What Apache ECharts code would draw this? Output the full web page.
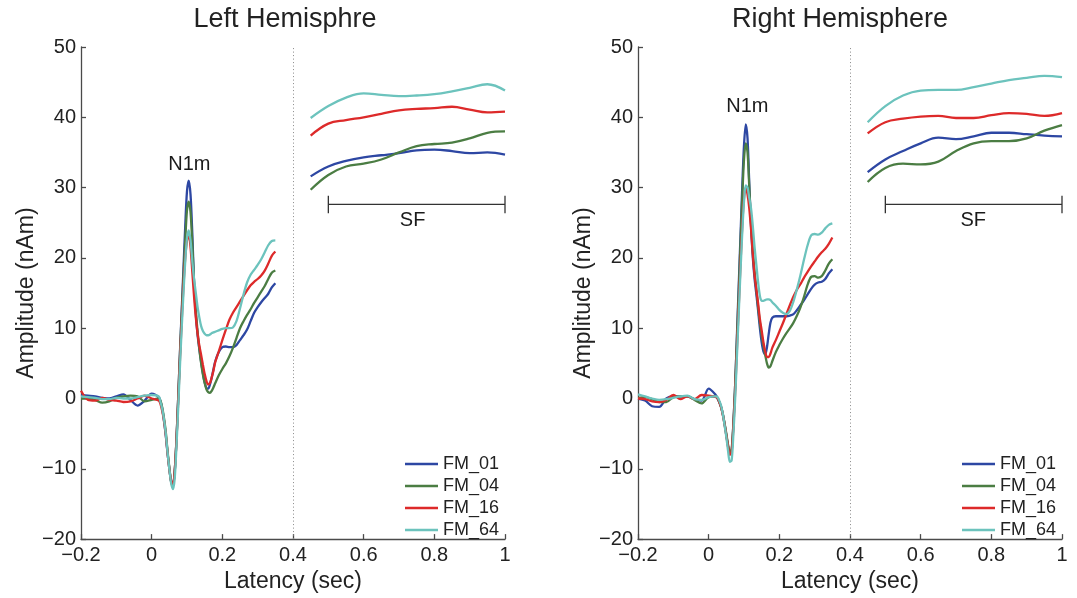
<!DOCTYPE html>
<html><head><meta charset="utf-8">
<script src="https://cdn.jsdelivr.net/npm/echarts@6/dist/echarts.min.js"></script>
<style>html,body{margin:0;padding:0;background:#fff}#c{width:1077px;height:598px}</style>
</head><body><div id="c"></div><script>
// ---------- DATA ----------
const seriesNames = ['FM_01', 'FM_04', 'FM_16', 'FM_64'];
const xTicks = [-0.2, 0, 0.2, 0.4, 0.6, 0.8, 1];
const yTicks = [-20, -10, 0, 10, 20, 30, 40, 50];

// latency samples (sec) of the evoked response
const latencyWave = [-0.2,-0.18,-0.16,-0.14,-0.12,-0.1,-0.08,-0.06,-0.04,-0.02,0,0.02,
  0.025,0.03,0.035,0.04,0.045,0.05,0.055,0.06,0.065,0.07,0.075,0.08,0.085,0.09,0.095,0.1,0.105,0.11,0.115,0.12,0.125,0.13,0.135,0.14,0.145,0.15,0.155,0.16,0.165,0.17,0.175,0.18,
  0.19,0.2,0.21,0.22,0.23,0.24,0.25,0.26,0.27,0.28,0.29,0.3,0.31,0.32,0.33,0.34,0.35];
// latency samples of the sustained field (SF) traces
const latencySF = [0.45,0.5,0.55,0.6,0.65,0.7,0.75,0.8,0.85,0.9,0.95,1.0];

// Left hemisphere, evoked response (nAm)
const leftFM01 = [0.5,0.4,0.3,0.1,0.0,0.3,0.6,-0.2,-1.0,-0.3,0.7,0.2,
  -0.4,-1.5,-3.2,-5.3,-7.8,-10.0,-11.8,-12.3,-10.5,-6.0,0.0,6.5,12.5,18.5,24.5,29.5,31.0,29.0,23.5,16.5,12.0,9.0,7.0,5.2,3.6,2.3,1.5,1.4,2.0,3.0,4.2,5.3,
  6.6,7.3,7.4,7.3,7.3,7.6,8.3,9.0,9.8,11.0,12.2,13.0,13.7,14.3,14.9,15.8,16.4];
const leftFM04 = [0.0,0.0,-0.2,-0.6,-0.4,0.1,0.3,0.4,0.3,-0.4,-0.2,0.0,
  -0.3,-1.3,-2.8,-4.8,-7.5,-9.8,-11.8,-12.5,-10.5,-6.0,0.0,6.3,12.0,17.5,22.5,26.8,28.0,26.5,22.0,16.5,12.5,9.5,7.0,5.0,3.4,2.2,1.3,0.9,0.8,1.1,1.6,2.2,
  3.3,4.2,5.0,6.0,7.2,8.6,10.0,11.0,11.9,12.7,13.6,14.4,15.2,16.0,17.0,17.9,18.2];
const leftFM16 = [1.1,-0.2,-0.3,0.1,-0.2,-0.3,-0.5,-0.4,0.0,0.4,0.0,-0.3,
  -0.8,-1.8,-3.2,-5.2,-7.8,-10.0,-11.7,-12.3,-10.5,-6.2,-0.5,5.5,11.0,16.0,20.0,22.5,23.2,21.5,18.0,14.5,11.5,9.2,7.5,6.2,4.8,3.5,2.5,2.0,2.2,3.0,4.0,5.2,
  6.7,8.3,9.8,11.2,12.2,13.0,13.8,14.6,15.4,16.1,16.6,17.0,17.5,18.2,19.2,20.3,20.9];
const leftFM64 = [0.3,0.2,0.1,-0.1,-0.1,0.1,0.0,0.0,0.2,0.4,0.5,0.3,
  -0.5,-1.5,-3.0,-5.0,-7.7,-10.0,-12.0,-12.9,-11.5,-7.0,-1.5,4.5,10.0,15.0,19.5,22.8,23.9,22.5,19.5,17.0,15.0,13.0,11.5,10.3,9.6,9.2,9.0,9.0,9.1,9.3,9.4,9.5,
  9.7,9.9,10.0,10.0,10.1,11.0,12.8,14.8,16.5,17.6,18.3,19.0,19.8,20.8,21.8,22.4,22.5];

// Right hemisphere, evoked response (nAm)
const rightFM01 = [0.0,-0.3,-1.1,-1.2,0.0,0.3,0.3,0.3,-0.1,-0.3,1.4,0.5,
  0.0,-0.5,-1.2,-2.2,-3.6,-5.2,-6.8,-7.9,-7.5,-3.5,2.0,9.0,16.0,23.0,30.0,36.0,39.0,37.0,30.5,24.5,20.0,17.0,14.8,12.5,10.0,8.0,6.7,6.3,7.3,9.2,10.8,11.5,
  11.7,11.7,11.7,11.7,11.8,12.0,12.6,13.3,14.0,14.8,15.6,16.2,16.5,16.6,17.0,17.8,18.4];
const rightFM04 = [0.1,0.2,-0.1,-0.5,-0.5,0.2,0.3,0.3,-0.2,-0.7,0.2,0.3,
  0.1,-0.5,-1.2,-2.2,-3.5,-5.0,-6.6,-7.6,-7.2,-3.5,2.0,8.5,15.0,22.0,28.5,34.0,36.3,35.0,30.0,25.0,21.0,18.0,15.5,13.0,10.8,9.0,7.5,6.2,5.0,4.4,4.6,5.3,
  6.6,7.6,8.5,9.3,10.0,10.8,11.8,13.0,14.5,16.2,17.3,17.4,17.2,17.4,18.2,19.2,19.8];
const rightFM16 = [0.0,-0.1,-0.4,-0.5,-0.2,0.5,-0.1,0.3,-0.1,0.5,0.4,0.2,
  0.1,-0.5,-1.2,-2.3,-3.7,-5.3,-6.9,-8.0,-7.6,-4.0,1.0,7.0,13.0,19.0,24.5,28.5,30.0,29.0,27.0,24.0,20.5,17.5,15.5,13.5,11.3,9.7,8.0,6.7,5.9,5.9,6.4,7.2,
  8.3,9.5,10.7,12.0,13.3,14.5,15.5,16.3,17.2,18.0,18.8,19.5,20.2,20.8,21.3,22.0,22.9];
const rightFM64 = [0.6,0.3,0.0,-0.2,-0.1,0.1,0.3,0.4,-0.1,-0.2,0.2,0.3,
  0.2,-0.3,-1.0,-2.2,-3.8,-5.5,-7.5,-9.0,-8.8,-5.0,0.0,6.0,12.0,18.0,23.5,28.0,30.3,30.0,28.5,27.0,24.5,21.5,19.0,16.5,14.6,13.9,13.9,14.0,14.1,14.1,14.0,13.7,
  13.2,12.6,12.2,12.0,12.5,13.8,15.6,17.6,19.8,21.8,23.2,23.4,23.3,23.6,24.2,24.7,24.9];

// Sustained field (SF) traces (nAm)
const leftSF01 = [31.6,33.0,33.8,34.3,34.6,34.9,35.3,35.4,35.2,34.9,35.0,34.7];
const leftSF04 = [29.7,31.8,33.0,33.4,34.0,35.0,35.9,36.2,36.4,37.0,37.8,38.0];
const leftSF16 = [37.4,39.1,39.6,40.0,40.5,41.0,41.2,41.3,41.5,41.1,40.7,40.8];
const leftSF64 = [39.9,41.6,42.8,43.4,43.2,43.0,43.1,43.3,43.7,44.2,44.7,43.8];
const rightSF01 = [32.2,34.0,35.2,36.3,37.1,36.9,37.3,37.8,37.8,37.6,37.4,37.3];
const rightSF04 = [30.8,32.8,33.4,33.3,33.7,35.2,36.3,36.6,36.6,37.0,38.1,38.9];
const rightSF16 = [37.7,39.3,39.8,40.1,40.2,39.9,39.9,40.3,40.6,40.5,40.2,40.6];
const rightSF64 = [39.3,41.6,43.1,43.8,43.9,43.9,44.3,44.8,45.3,45.6,45.9,45.7];

// Annotations
const sfWindow = [0.5, 1.0];
const sfBracketLevel = 27.6;
const sfBracketHalf = 1.25;
const sfLabelPos = [[0.74, 25.3], [0.75, 25.3]];
const n1mLabelPos = [[0.108, 33.2], [0.111, 41.5]];
const stimulusEnd = 0.4;
const panelTitles = ['Left Hemisphre', 'Right Hemisphere'];

// ---------- CHART ----------
const FONT = "'Liberation Sans', Arial, Helvetica, sans-serif";
const colors = ['#2d47a3', '#4b7d43', '#dd2a2a', '#6cc3bd'];
const waves = [[leftFM01, leftFM04, leftFM16, leftFM64], [rightFM01, rightFM04, rightFM16, rightFM64]];
const sfs = [[leftSF01, leftSF04, leftSF16, leftSF64], [rightSF01, rightSF04, rightSF16, rightSF64]];
const pairs = (xs, ys) => xs.map((x, i) => [x, ys[i]]);
const minus = v => String(Math.round(v * 10) / 10).replace('-', '\u2212');

const grids = [
  { left: 81, right: 572, top: 47, bottom: 51 },
  { left: 638, right: 15, top: 47, bottom: 51 }
];
const axisColor = '#4a4a4a';
const xAxes = [], yAxes = [], series = [], legends = [], titles = [];
[0, 1].forEach(p => {
  xAxes.push({
    type: 'value', gridIndex: p, min: xTicks[0], max: xTicks[xTicks.length - 1], interval: 0.2,
    axisLine: { show: true, onZero: false, lineStyle: { color: axisColor, width: 1.3 } },
    axisTick: { show: true, inside: true, length: 5, lineStyle: { color: axisColor, width: 1.3 } },
    splitLine: { show: false },
    axisLabel: { fontSize: 20, color: '#222', margin: 6, fontFamily: FONT, formatter: minus },
    name: 'Latency (sec)', nameLocation: 'middle', nameGap: 25,
    nameTextStyle: { fontSize: 23, color: '#222', fontFamily: FONT }
  });
  yAxes.push({
    type: 'value', gridIndex: p, min: yTicks[0], max: yTicks[yTicks.length - 1], interval: 10,
    axisLine: { show: true, onZero: false, lineStyle: { color: axisColor, width: 1.3 } },
    axisTick: { show: true, inside: true, length: 5, lineStyle: { color: axisColor, width: 1.3 } },
    splitLine: { show: false },
    axisLabel: { fontSize: 20, color: '#222', margin: 5, fontFamily: FONT, formatter: minus },
    name: 'Amplitude (nAm)', nameLocation: 'middle', nameGap: 43,
    nameTextStyle: { fontSize: 23, color: '#222', fontFamily: FONT }
  });
  seriesNames.forEach((nm, k) => {
    const s = {
      type: 'line', name: nm, xAxisIndex: p, yAxisIndex: p,
      data: pairs(latencyWave, waves[p][k]), smooth: 0.3, symbol: 'none',
      lineStyle: { color: colors[k], width: 2.3 }, itemStyle: { color: colors[k] },
      z: 2 + k, animation: false
    };
    if (k === 0) {
      s.markLine = {
        silent: true, symbol: 'none', label: { show: false },
        lineStyle: { type: [1, 2.5], color: '#888', width: 1 },
        data: [{ xAxis: stimulusEnd }]
      };
    }
    series.push(s);
    series.push({
      type: 'line', name: nm, xAxisIndex: p, yAxisIndex: p,
      data: pairs(latencySF, sfs[p][k]), smooth: 0.4, symbol: 'none',
      lineStyle: { color: colors[k], width: 2.3 }, itemStyle: { color: colors[k] },
      z: 2 + k, animation: false
    });
  });
  // SF bracket
  series.push({
    type: 'line', name: 'SF window', xAxisIndex: p, yAxisIndex: p, symbol: 'none', animation: false,
    lineStyle: { color: '#333', width: 1.3 },
    data: [[sfWindow[0], sfBracketLevel + sfBracketHalf], [sfWindow[0], sfBracketLevel - sfBracketHalf],
           [sfWindow[0], sfBracketLevel], [sfWindow[1], sfBracketLevel],
           [sfWindow[1], sfBracketLevel + sfBracketHalf], [sfWindow[1], sfBracketLevel - sfBracketHalf]]
  });
  // text labels
  series.push({
    type: 'scatter', name: 'labels', xAxisIndex: p, yAxisIndex: p, symbolSize: 1, animation: false,
    itemStyle: { color: 'rgba(0,0,0,0)' }, silent: true, z: 10,
    label: { show: true, position: [0, 0], align: 'center', verticalAlign: 'middle',
      fontSize: 20, color: '#1a1a1a', opacity: 1, textBorderWidth: 0, fontFamily: FONT,
      formatter: d => d.data.t },
    data: [{ value: n1mLabelPos[p], t: 'N1m' }, { value: sfLabelPos[p], t: 'SF' }]
  });
  legends.push({
    orient: 'vertical', left: p === 0 ? 400 : 957, top: 450,
    icon: 'rect', itemWidth: 33, itemHeight: 2.5, itemGap: 4,
    textStyle: { fontSize: 18, color: '#222', fontFamily: FONT, padding: [0, 0, 0, 0] },
    data: seriesNames
  });
  titles.push({
    text: panelTitles[p], left: p === 0 ? 285 : 840, top: 6, padding: 0, textAlign: 'center',
    textStyle: { fontSize: 27, fontWeight: 'normal', color: '#222', fontFamily: FONT }
  });
});

const chart = echarts.init(document.getElementById('c'), null, { renderer: 'canvas' });
chart.setOption({
  animation: false,
  backgroundColor: '#fff',
  title: titles,
  grid: grids,
  xAxis: xAxes,
  yAxis: yAxes,
  legend: legends,
  series: series
});
</script></body></html>
